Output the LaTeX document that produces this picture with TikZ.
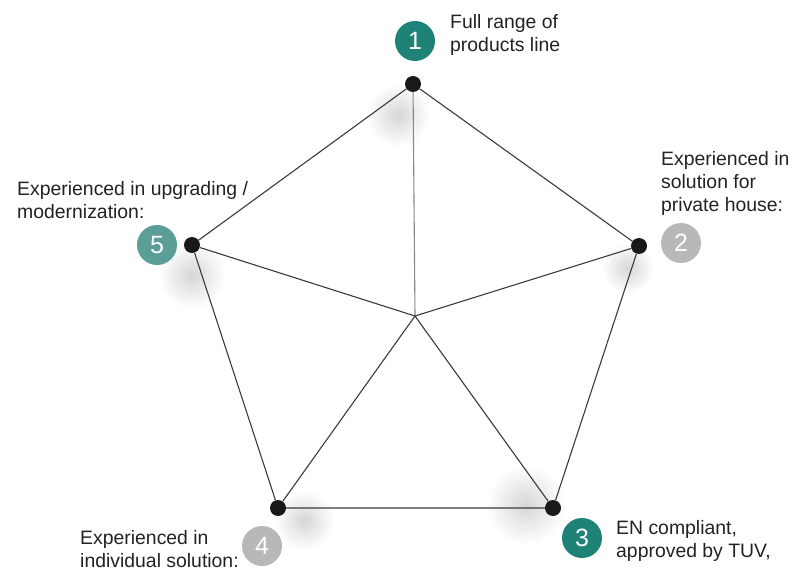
\documentclass[tikz,border=0pt]{standalone}
\usepackage{fontspec}
\setmainfont{Liberation Sans}
\definecolor{teal1}{HTML}{1E8276}
\definecolor{teal5}{HTML}{5A9E97}
\definecolor{badgegray}{HTML}{B8B8B8}
\definecolor{txt}{HTML}{222222}
\definecolor{edge}{HTML}{3A3A3A}
\begin{document}
\begin{tikzpicture}[x=1pt,y=-1pt,
  dot/.style={circle,fill=black!90,inner sep=0pt,minimum size=16pt},
  badge/.style={circle,inner sep=0pt,minimum size=40pt,text=white,font=\fontsize{25}{25}\selectfont},
  lbl/.style={anchor=base west,inner sep=0pt,align=left,text=txt,font=\fontsize{19.4}{23}\selectfont},
  link/.style={draw=edge,line width=1.1pt},
  spoke/.style={draw=edge!60,line width=1.1pt},
  glow/.style={inner color=black!16,outer color=white}]
\useasboundingbox (0,0) rectangle (793,572);
% soft shadows
\foreach \x/\y/\r in {398/115/32, 192/275/34, 526/505/40, 304/520/30, 628/268/26}{
  \shade[glow] (\x,\y) circle (\r);
}
\coordinate (c) at (415,316);
\node[dot] (p1) at (413,84) {};
\node[dot] (p2) at (639,246) {};
\node[dot] (p3) at (553,508) {};
\node[dot] (p4) at (278,508) {};
\node[dot] (p5) at (192,245) {};
\draw[link] (p1) -- (p2) -- (p3) -- (p4) -- (p5) -- (p1);
\draw[spoke] (c) -- (p1);
\draw[link] (c) -- (p2);
\draw[link] (c) -- (p3);
\draw[link] (c) -- (p4);
\draw[link] (c) -- (p5);
\node[badge,fill=teal1] (b1) at (415,41) {1};
\node[badge,fill=badgegray] (b2) at (681,243) {2};
\node[badge,fill=teal1] (b3) at (582,538) {3};
\node[badge,fill=badgegray] (b4) at (262,546) {4};
\node[badge,fill=teal5] (b5) at (157,245) {5};
\node[lbl] (t1) at (450,52) {Full range of\\products line};
\node[lbl] (t2) at (661,212) {Experienced in\\solution for\\private house:};
\node[lbl] (t3) at (616,557) {EN compliant,\\approved by TUV,};
\node[lbl] (t4) at (80,567) {Experienced in\\individual solution:};
\node[lbl] (t5) at (17,219) {Experienced in upgrading /\\modernization:};
\end{tikzpicture}
\end{document}
